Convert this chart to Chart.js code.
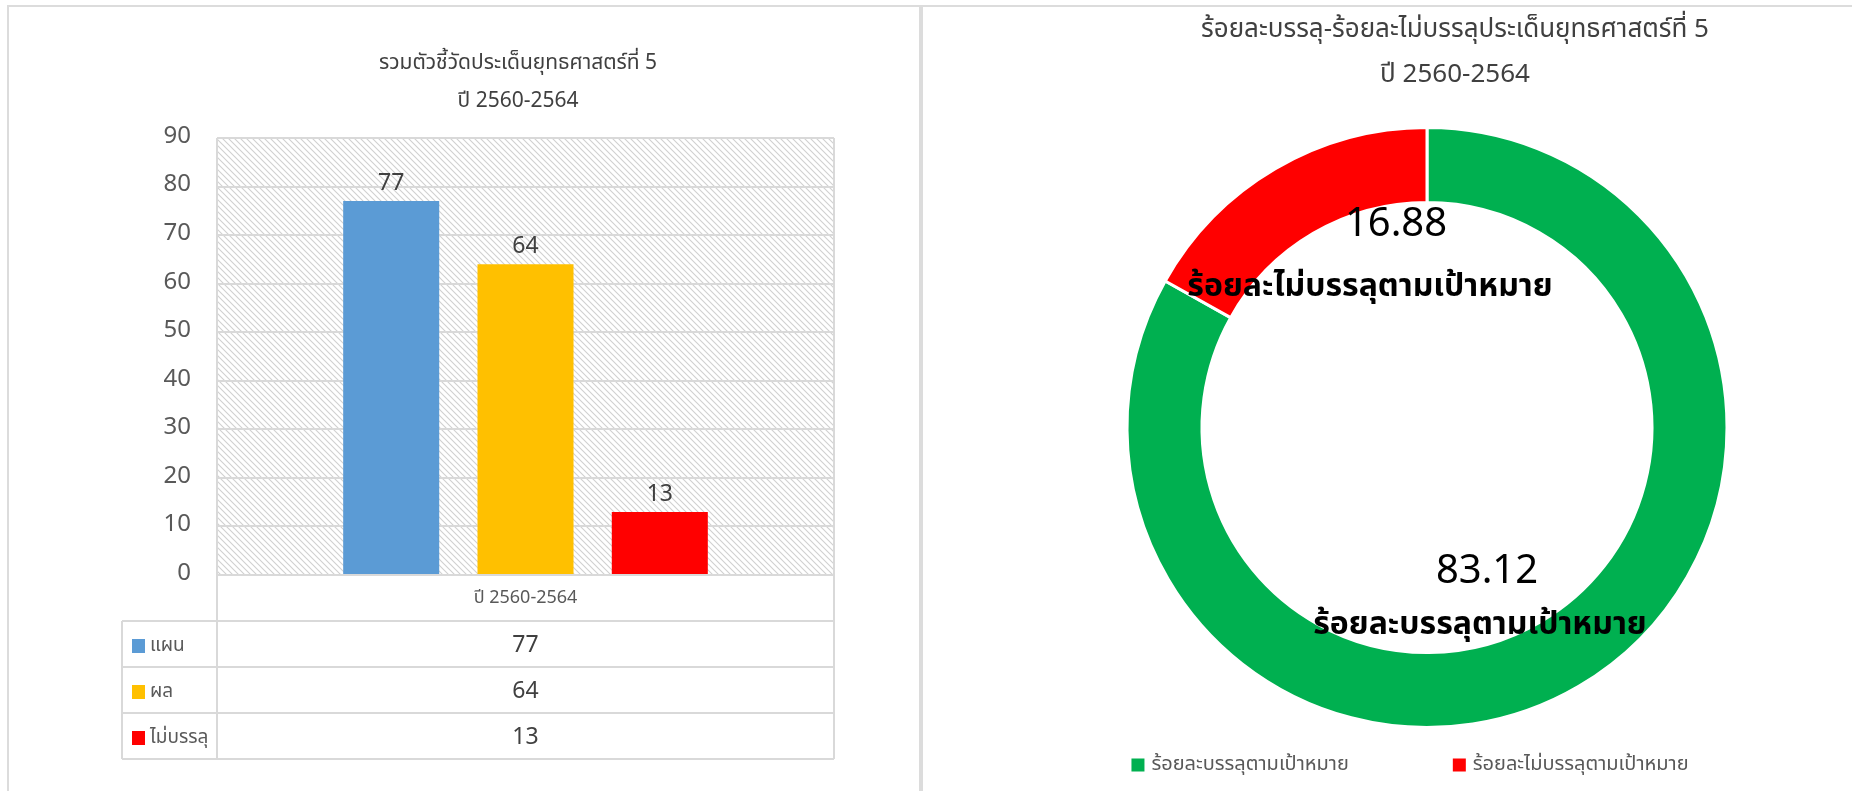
<!DOCTYPE html>
<html><head><meta charset="utf-8">
<script src="https://cdn.jsdelivr.net/npm/chart.js@4.4.1/dist/chart.umd.min.js"></script>
<style>
html,body{margin:0;padding:0;background:#fff;width:1852px;height:791px;overflow:hidden;}
.frame{position:absolute;border:2px solid #dcdcdc;box-sizing:border-box;}
#c1{position:absolute;left:0;top:0;}
#c2{position:absolute;left:921px;top:0;}
</style></head>
<body>
<div class="frame" style="left:7px;top:5px;width:914px;height:800px;"></div>
<div class="frame" style="left:921px;top:5px;width:940px;height:800px;"></div>
<canvas id="c1" width="920" height="791"></canvas>
<canvas id="c2" width="931" height="791"></canvas>
<script>
// ---------- data ----------
const barCategories = ['ปี 2560-2564'];
const seriesNames = ['แผน', 'ผล', 'ไม่บรรลุ'];
const planValues = [77];
const resultValues = [64];
const missValues = [13];
const seriesColors = ['#5B9BD5', '#FFC000', '#FF0000'];
const yMin = 0, yMax = 90, yStep = 10;

const donutLabels = ['ร้อยละบรรลุตามเป้าหมาย', 'ร้อยละไม่บรรลุตามเป้าหมาย'];
const donutValues = [83.12, 16.88];
const donutColors = ['#00B050', '#FF0000'];

const leftTitle = ['รวมตัวชี้วัดประเด็นยุทธศาสตร์ที่ 5', 'ปี 2560-2564'];
const rightTitle = ['ร้อยละบรรลุ-ร้อยละไม่บรรลุประเด็นยุทธศาสตร์ที่ 5', 'ปี 2560-2564'];

const FONT = "'Noto Sans Thai', 'Noto Sans', 'DejaVu Sans', sans-serif";

// ---------- plugins ----------
const panelTitle = {
  id: 'panelTitle',
  afterDraw(chart, args, o) {
    const ctx = chart.ctx;
    ctx.save();
    ctx.fillStyle = o.color;
    ctx.font = `${o.size}px ${FONT}`;
    ctx.textAlign = 'center';
    ctx.textBaseline = 'middle';
    o.lines.forEach((t, i) => ctx.fillText(t, o.x, o.y[i]));
    ctx.restore();
  }
};

function makeHatch() {
  const c = document.createElement('canvas');
  c.width = 6; c.height = 6;
  const g = c.getContext('2d');
  g.fillStyle = '#ffffff'; g.fillRect(0, 0, 6, 6);
  g.strokeStyle = '#d0d0d0'; g.lineWidth = 1.1;
  g.beginPath();
  g.moveTo(-1, -1); g.lineTo(7, 7);
  g.moveTo(-4, 2); g.lineTo(4, 10);
  g.moveTo(2, -4); g.lineTo(10, 4);
  g.stroke();
  return c;
}

const hatchBg = {
  id: 'hatchBg',
  beforeDraw(chart) {
    const {ctx, chartArea: a} = chart;
    ctx.save();
    ctx.fillStyle = ctx.createPattern(makeHatch(), 'repeat');
    ctx.fillRect(a.left, a.top, a.right - a.left, a.bottom - a.top);
    ctx.restore();
  }
};

const barValueLabels = {
  id: 'barValueLabels',
  afterDatasetsDraw(chart) {
    const ctx = chart.ctx;
    ctx.save();
    ctx.fillStyle = '#404040';
    ctx.font = `23px ${FONT}`;
    ctx.textAlign = 'center';
    ctx.textBaseline = 'bottom';
    chart.data.datasets.forEach((ds, i) => {
      chart.getDatasetMeta(i).data.forEach((bar, j) => {
        ctx.fillText(String(ds.data[j]), bar.x, bar.y - 4);
      });
    });
    ctx.restore();
  }
};

const dataTable = {
  id: 'dataTable',
  afterDraw(chart, args, o) {
    const {ctx, chartArea: a} = chart;
    const xs = chart.scales.x;
    const top = xs.bottom;
    const n = chart.data.datasets.length;
    const bottom = top + o.rowHeight * n;
    const colLeft = a.left - o.keyWidth;
    ctx.save();
    ctx.strokeStyle = '#d9d9d9';
    ctx.lineWidth = 2;
    ctx.beginPath();
    for (let r = 0; r <= n; r++) {
      const y = top + r * o.rowHeight;
      ctx.moveTo(colLeft, y); ctx.lineTo(a.right, y);
    }
    ctx.moveTo(a.left, a.bottom); ctx.lineTo(a.right, a.bottom);
    ctx.moveTo(a.left, a.top); ctx.lineTo(a.right, a.top);
    ctx.moveTo(colLeft, top); ctx.lineTo(colLeft, bottom);
    ctx.moveTo(a.left, a.top); ctx.lineTo(a.left, bottom);
    ctx.moveTo(a.right, a.top); ctx.lineTo(a.right, bottom);
    ctx.stroke();
    chart.data.datasets.forEach((ds, i) => {
      const yc = top + o.rowHeight * (i + 0.5) + 3;
      ctx.fillStyle = ds.backgroundColor;
      ctx.fillRect(colLeft + 10, yc - 8, 13, 14);
      ctx.fillStyle = '#595959';
      ctx.font = `19px ${FONT}`;
      ctx.textAlign = 'left';
      ctx.textBaseline = 'middle';
      ctx.fillText(ds.label, colLeft + 28, yc);
      ctx.fillStyle = '#404040';
      ctx.font = `23px ${FONT}`;
      ctx.textAlign = 'center';
      ds.data.forEach((v, j) => ctx.fillText(String(v), xs.getPixelForValue(j), yc));
    });
    ctx.restore();
  }
};

// ---------- bar chart ----------
const valueSets = [planValues, resultValues, missValues];
new Chart(document.getElementById('c1'), {
  type: 'bar',
  data: {
    labels: barCategories,
    datasets: seriesNames.map((name, i) => ({
      label: name,
      data: valueSets[i],
      backgroundColor: seriesColors[i],
      categoryPercentage: 0.653,
      barPercentage: 0.715
    }))
  },
  options: {
    responsive: false,
    animation: false,
    layout: {padding: {left: 157, right: 86, top: 138, bottom: 170}},
    plugins: {
      legend: {display: false},
      tooltip: {enabled: false},
      panelTitle: {lines: leftTitle, x: 518, y: [65, 103], size: 21, color: '#404040'},
      dataTable: {rowHeight: 46, keyWidth: 95}
    },
    scales: {
      x: {
        grid: {display: false, drawTicks: false},
        border: {display: false},
        ticks: {color: '#595959', font: {size: 18, family: FONT}, padding: 14},
        afterFit: s => { s.height = 46; }
      },
      y: {
        min: yMin, max: yMax,
        ticks: {stepSize: yStep, color: '#595959', font: {size: 24, family: FONT}, padding: 26},
        grid: {color: '#d9d9d9', lineWidth: 2, drawTicks: false},
        border: {display: false},
        afterFit: s => { s.width = 60; }
      }
    }
  },
  plugins: [hatchBg, barValueLabels, dataTable, panelTitle]
});

// ---------- doughnut ----------
const donutText = {
  id: 'donutText',
  afterDatasetsDraw(chart, args, o) {
    const ctx = chart.ctx;
    const arcs = chart.getDatasetMeta(0).data;
    ctx.save();
    ctx.fillStyle = '#000';
    ctx.textAlign = 'center';
    ctx.textBaseline = 'middle';
    arcs.forEach((arc, i) => {
      const off = o.offsets[i];
      ctx.font = `${o.valueSize}px ${FONT}`;
      ctx.fillText(String(chart.data.datasets[0].data[i]), arc.x + off.vx, arc.y + off.vy);
      ctx.font = `bold ${o.nameSize}px ${FONT}`;
      ctx.fillText(chart.data.labels[i], arc.x + off.nx, arc.y + off.ny);
    });
    ctx.restore();
  }
};

const donutLegend = {
  id: 'donutLegend',
  afterDraw(chart, args, o) {
    const ctx = chart.ctx;
    ctx.save();
    ctx.font = `${o.size}px ${FONT}`;
    const labels = chart.data.labels;
    const widths = labels.map(t => o.box + o.boxGap + ctx.measureText(t).width);
    const total = widths.reduce((s, w) => s + w, 0) + o.gap * (labels.length - 1);
    let x = o.cx - total / 2;
    ctx.textBaseline = 'middle';
    ctx.textAlign = 'left';
    labels.forEach((t, i) => {
      ctx.fillStyle = chart.data.datasets[0].backgroundColor[i];
      ctx.fillRect(x, o.y - o.box / 2, o.box, o.box);
      ctx.fillStyle = '#595959';
      ctx.fillText(t, x + o.box + o.boxGap, o.y + 1);
      x += widths[i] + o.gap;
    });
    ctx.restore();
  }
};

new Chart(document.getElementById('c2'), {
  type: 'doughnut',
  data: {
    labels: donutLabels,
    datasets: [{data: donutValues, backgroundColor: donutColors, borderColor: '#ffffff', borderWidth: 3}]
  },
  options: {
    responsive: false,
    animation: false,
    cutout: '75%',
    layout: {padding: {top: 126, bottom: 62, left: 81, right: 0}},
    plugins: {
      legend: {display: false},
      tooltip: {enabled: false},
      panelTitle: {lines: rightTitle, x: 534, y: [32, 77], size: 26, color: '#404040'},
      donutText: {
        valueSize: 40, nameSize: 32,
        offsets: [{vx: 60, vy: 147, nx: 53, ny: 200}, {vx: -31, vy: -200, nx: -57, ny: -138}]
      },
      donutLegend: {cx: 489, y: 765, size: 20, box: 13, boxGap: 7, gap: 104}
    }
  },
  plugins: [donutText, donutLegend, panelTitle]
});
</script>
</body></html>
